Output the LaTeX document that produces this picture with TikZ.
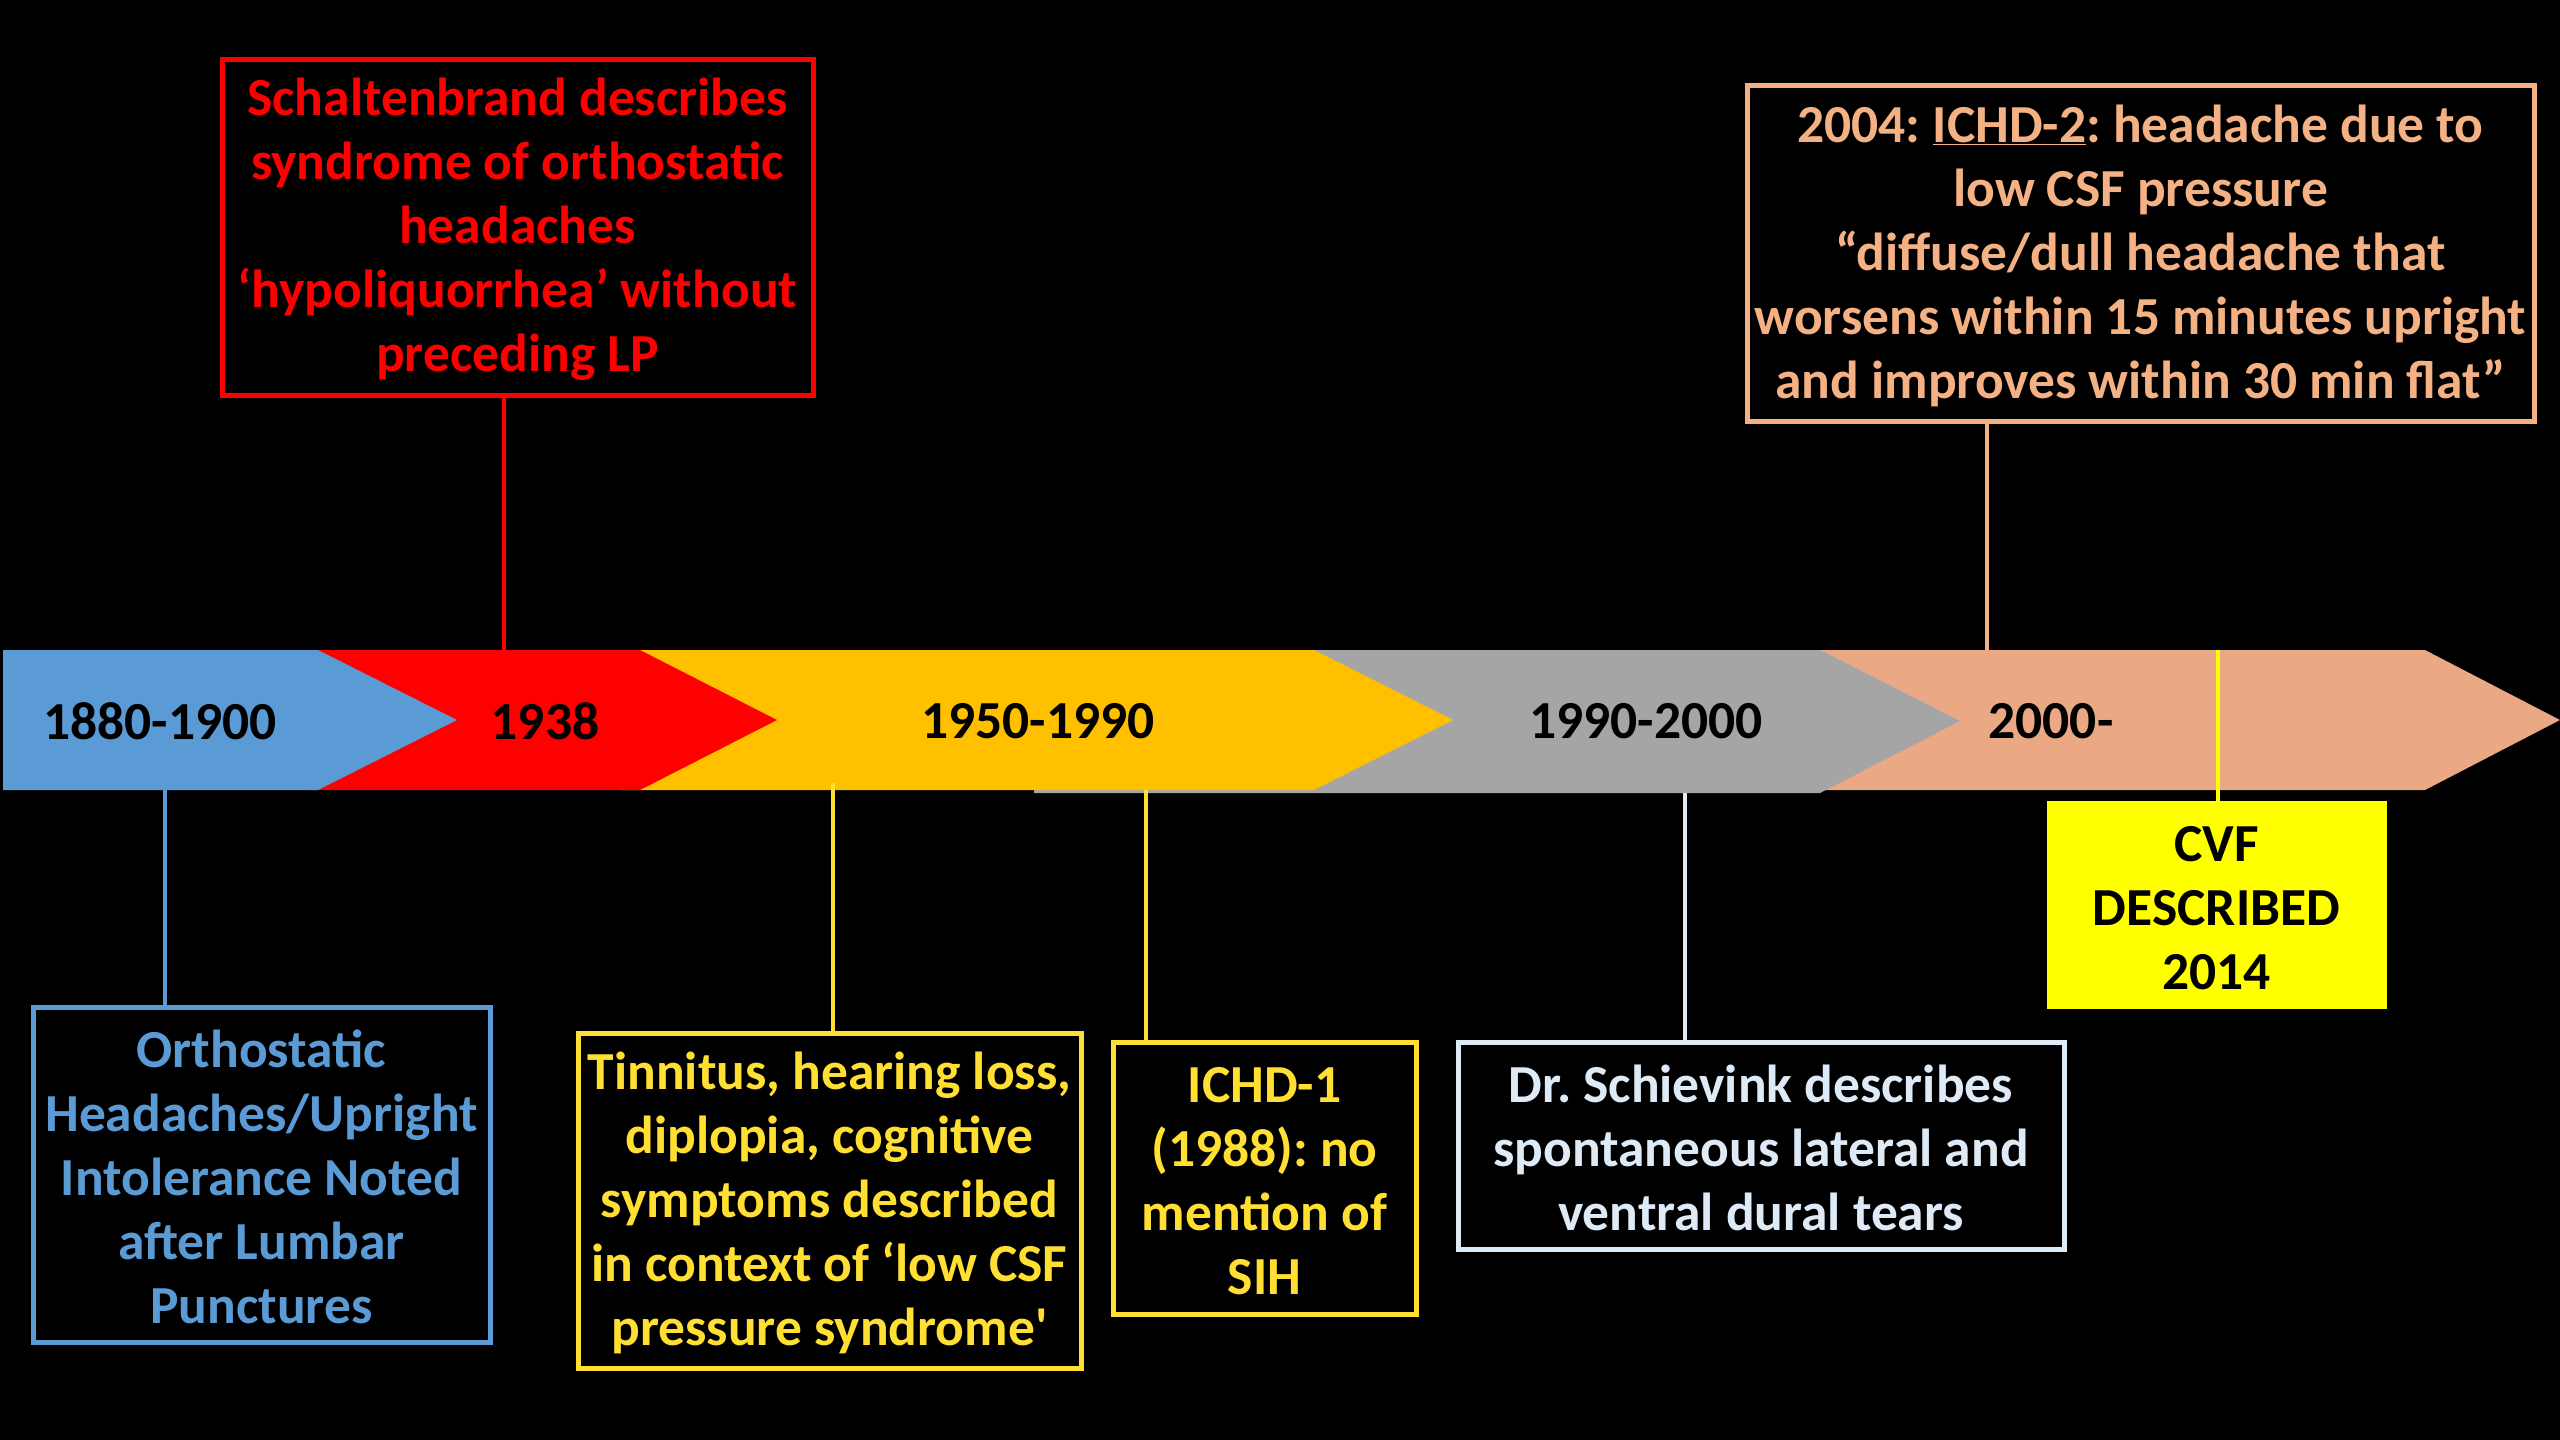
\documentclass[tikz,border=0pt]{standalone}
\usepackage{fontspec}
\setmainfont{Carlito}[Ligatures=TeXOff]
\definecolor{blueC}{HTML}{5B9BD5}
\definecolor{redC}{HTML}{FF0000}
\definecolor{orangeC}{HTML}{FFC000}
\definecolor{greyC}{HTML}{A5A5A5}
\definecolor{peachBar}{HTML}{EBA885}
\definecolor{peachC}{HTML}{F4B183}
\definecolor{goldC}{HTML}{FFE032}
\definecolor{cvfC}{HTML}{FFFF00}
\definecolor{paleC}{HTML}{DEEBF7}
\newcommand{\topstrut}{\rule{0pt}{42pt}}
\frenchspacing
\begin{document}
\begin{tikzpicture}[x=1pt,y=-1pt,
  evbox/.style={draw, line width=5pt, align=center, inner sep=0pt,
    font=\fontsize{53.5}{64}\selectfont\bfseries\frenchspacing},
  yearlbl/.style={font=\fontsize{53.5}{64}\selectfont\bfseries, text=black, inner sep=0pt},
  conn/.style={line width=4.5pt}]
\useasboundingbox (0,0) rectangle (2560,1440);
\fill[black] (0,0) rectangle (2560,1440);

% timeline chevrons (back to front)
\fill[peachBar] (1800,650) -- (2425,650) -- (2560,720) -- (2425,790) -- (1800,790) -- cycle;
\fill[greyC] (1034,650) -- (1820,650) -- (1960,721) -- (1820,793) -- (1034,793) -- cycle;
\fill[orangeC] (620,650) -- (1314,650) -- (1453,720) -- (1314,790) -- (620,790) -- cycle;
\fill[redC] (300,650) -- (640,650) -- (777,720) -- (640,790) -- (300,790) -- cycle;
\fill[blueC] (3,650) -- (318,650) -- (457,720) -- (318,790) -- (3,790) -- cycle;

% year labels
\node[yearlbl] (y1) at (160,721) {1880-1900};
\node[yearlbl] (y2) at (545,721) {1938};
\node[yearlbl] (y3) at (1038,721) {1950-1990};
\node[yearlbl] (y4) at (1646,721) {1990-2000};
\node[yearlbl] (y5) at (2051,721) {2000-};

% event boxes
\node[evbox, draw=redC, text=redC, minimum width=591pt, minimum height=336pt] (redbox) at (517.5,227.5)
  {\topstrut Schaltenbrand describes\\syndrome of orthostatic\\headaches\\‘hypoliquorrhea’ without\\preceding LP};
\node[evbox, draw=peachC, text=peachC, minimum width=787pt, minimum height=336pt] (peachbox) at (2140.5,253.5)
  {\topstrut 2004: \underline{ICHD-2}: headache due to\\low CSF pressure\\“diffuse/dull headache that\\worsens within 15 minutes upright\\and improves within 30 min flat”};
\node[evbox, draw=blueC, text=blueC, minimum width=457pt, minimum height=335pt] (bluebox) at (261.5,1174.5)
  {\topstrut Orthostatic\\Headaches/Upright\\Intolerance Noted\\after Lumbar\\Punctures};
\node[evbox, draw=goldC, text=goldC, minimum width=503pt, minimum height=335pt] (tinbox) at (829.5,1200.5)
  {\topstrut Tinnitus, hearing loss,\\diplopia, cognitive\\symptoms described\\in context of ‘low CSF\\pressure syndrome'};
\node[evbox, draw=goldC, text=goldC, minimum width=303pt, minimum height=272pt] (ichdbox) at (1264.5,1178)
  {\topstrut ICHD-1\\(1988): no\\mention of\\SIH};
\node[evbox, draw=paleC, text=paleC, minimum width=606pt, minimum height=207pt] (schbox) at (1761,1145.5)
  {\topstrut Dr. Schievink describes\\spontaneous lateral and\\ventral dural tears};
\node[evbox, draw=cvfC, fill=cvfC, text=black, minimum width=335pt, minimum height=203pt] (cvfbox) at (2216.5,904.5)
  {\topstrut CVF\\DESCRIBED\\2014};

% connector anchor points on the bar
\coordinate (cRed) at (504,650);
\coordinate (cPeach) at (1987,650);
\coordinate (cBlue) at (165,790);
\coordinate (cTin) at (833,783);
\coordinate (cIchd) at (1146,790);
\coordinate (cSch) at (1685,793);
\coordinate (cCvf) at (2218,650);

\draw[conn, redC] (cRed) -- (cRed |- redbox.south);
\draw[conn, peachC] (cPeach) -- (cPeach |- peachbox.south);
\draw[conn, blueC] (cBlue) -- (cBlue |- bluebox.north);
\draw[conn, goldC] (cTin) -- (cTin |- tinbox.north);
\draw[conn, goldC] (cIchd) -- (cIchd |- ichdbox.north);
\draw[conn, paleC] (cSch) -- (cSch |- schbox.north);
\draw[conn, cvfC] (cCvf) -- (cCvf |- cvfbox.north);
\end{tikzpicture}
\end{document}
